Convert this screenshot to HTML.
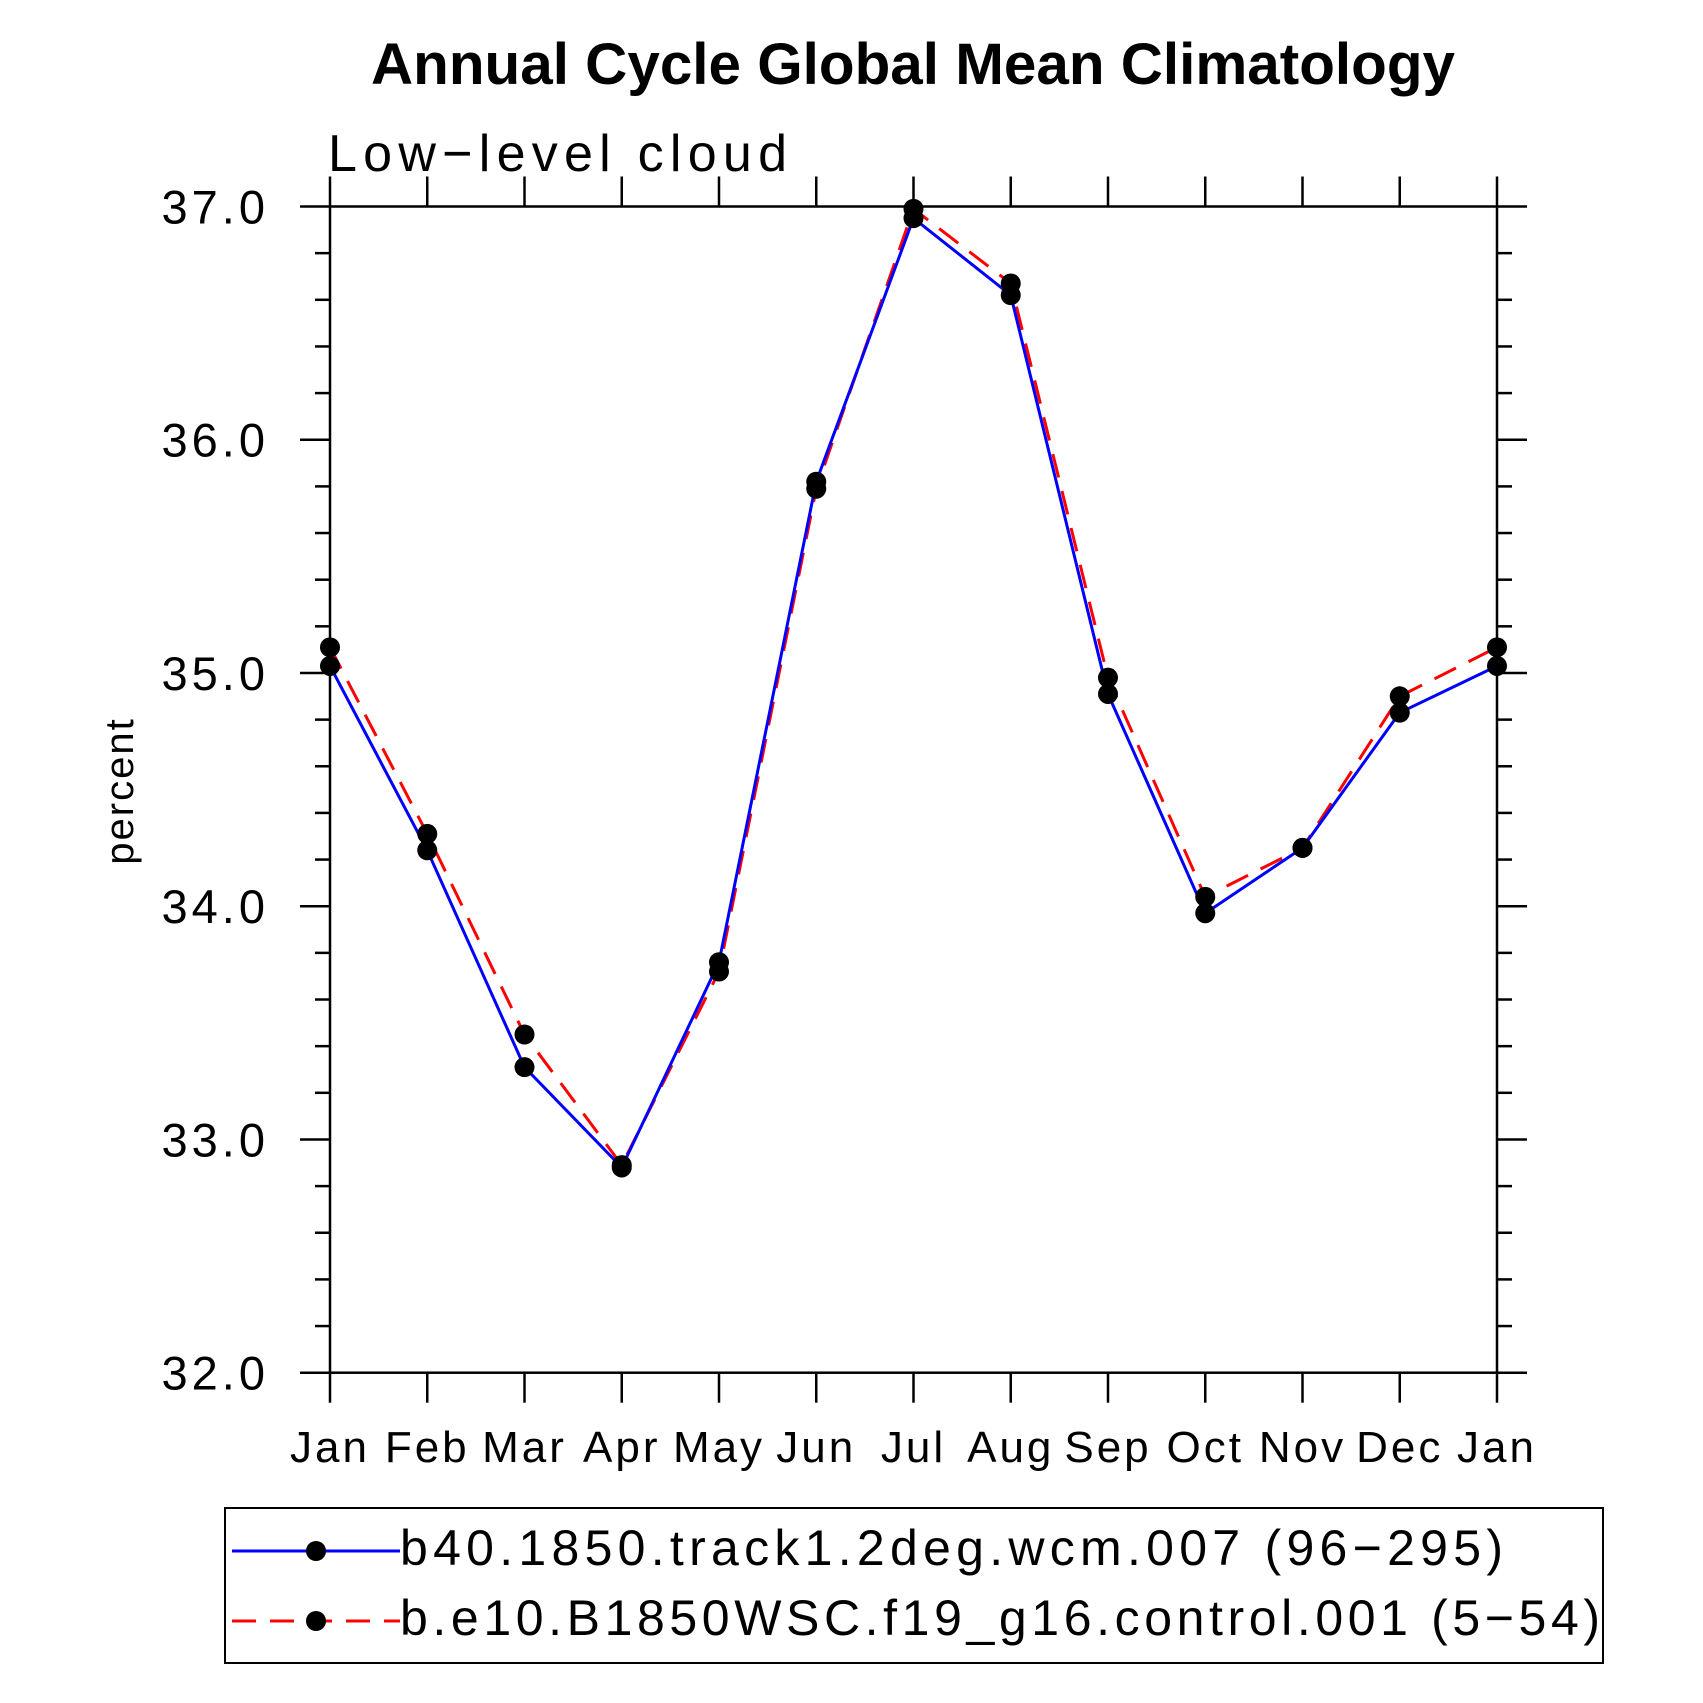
<!DOCTYPE html>
<html><head><meta charset="utf-8"><style>html,body{margin:0;padding:0;background:#fff}svg{display:block}</style></head>
<body>
<svg id="chart" width="1703" height="1703" viewBox="0 0 1703 1703" xmlns="http://www.w3.org/2000/svg" font-family="Liberation Sans, sans-serif">
<text x="913" y="84" font-size="58" font-weight="bold" text-anchor="middle" textLength="1084" lengthAdjust="spacingAndGlyphs">Annual Cycle Global Mean Climatology</text>
<text x="328" y="171" font-size="52" textLength="459" lengthAdjust="spacing">Low−level cloud</text>
<text x="0" y="0" font-size="40" text-anchor="middle" letter-spacing="2" transform="translate(133,791) rotate(-90)">percent</text>
<g id="axes"></g>
<g id="series"></g>
<g id="legend">
<rect x="225" y="1508" width="1378" height="155" fill="none" stroke="#000" stroke-width="2"/>
<g>
<line x1="232" y1="1551" x2="400" y2="1551" stroke="#0000ff" stroke-width="3"/>
<circle cx="316" cy="1551" r="10" fill="#000"/>
<text x="400" y="1565" font-size="50" textLength="1103" lengthAdjust="spacing">b40.1850.track1.2deg.wcm.007 (96−295)</text>
</g>
<g>
<line x1="232" y1="1621" x2="400" y2="1621" stroke="#ff0000" stroke-width="3" stroke-dasharray="24,14"/>
<circle cx="316" cy="1621" r="10" fill="#000"/>
<text x="400" y="1635" font-size="50" textLength="1200" lengthAdjust="spacing">b.e10.B1850WSC.f19_g16.control.001 (5−54)</text>
</g>
</g>
</svg>
<script>
const months = ["Jan","Feb","Mar","Apr","May","Jun","Jul","Aug","Sep","Oct","Nov","Dec","Jan"];
const blueValues = [35.03,34.24,33.31,32.88,33.76,35.82,36.95,36.62,34.91,33.97,34.25,34.83,35.03];
const redValues = [35.11,34.31,33.45,32.89,33.72,35.79,36.99,36.67,34.98,34.04,34.25,34.90,35.11];
const yTickLabels = ["32.0","33.0","34.0","35.0","36.0","37.0"];
const yMin = 32, yMax = 37;

const L=330,R=1497,T=206.5,B=1372.7;
const NS="http://www.w3.org/2000/svg";
function xs(i){return L+(R-L)*i/(months.length-1);}
function ys(v){return B-(v-yMin)/(yMax-yMin)*(B-T);}
function mk(tag,attrs,parent){const e=document.createElementNS(NS,tag);for(const k in attrs)e.setAttribute(k,attrs[k]);parent.appendChild(e);return e;}
const axes=document.getElementById('axes');
const frame=mk('rect',{x:L,y:T,width:R-L,height:B-T,fill:'none',stroke:'#000','stroke-width':2.5},axes);


months.forEach((m,i)=>{
  const x=xs(i);
  mk('line',{x1:x,y1:B,x2:x,y2:B+30,stroke:'#000','stroke-width':2.5},axes);
  mk('line',{x1:x,y1:T,x2:x,y2:T-30,stroke:'#000','stroke-width':2.5},axes);
  const t=mk('text',{x:x,y:1462,'font-size':44,'text-anchor':'middle','letter-spacing':3},axes);
  t.textContent=m;
  
  
});
for(let k=0;k<=25;k++){
  const v=yMin+k*0.2;const y=ys(v);const major=(k%5===0);const len=major?30:15;
  mk('line',{x1:L,y1:y,x2:L-len,y2:y,stroke:'#000','stroke-width':2.5},axes);
  mk('line',{x1:R,y1:y,x2:R+len,y2:y,stroke:'#000','stroke-width':2.5},axes);
}
yTickLabels.forEach(lbl=>{
  const y=ys(parseFloat(lbl));
  const t=mk('text',{x:269,y:y+17,'font-size':47,'text-anchor':'end','letter-spacing':4},axes);
  t.textContent=lbl;
  
  
});
const series=document.getElementById('series');
function draw(vals,color,dash,name){
  const pts=vals.map((v,i)=>xs(i)+','+ys(v)).join(' ');
  const pl=mk('polyline',{points:pts,fill:'none',stroke:color,'stroke-width':3},series);
  if(dash)pl.setAttribute('stroke-dasharray',dash);
  
  
  return pl;
}
draw(redValues,'#ff0000','24,14','test-series');
draw(blueValues,'#0000ff',null,'control-series');
[redValues,blueValues].forEach((vals,s)=>{
  vals.forEach((v,i)=>{
    const c=mk('circle',{cx:xs(i),cy:ys(v),r:10,fill:'#000'},series);
    
    
  });
});
</script>
</body></html>
